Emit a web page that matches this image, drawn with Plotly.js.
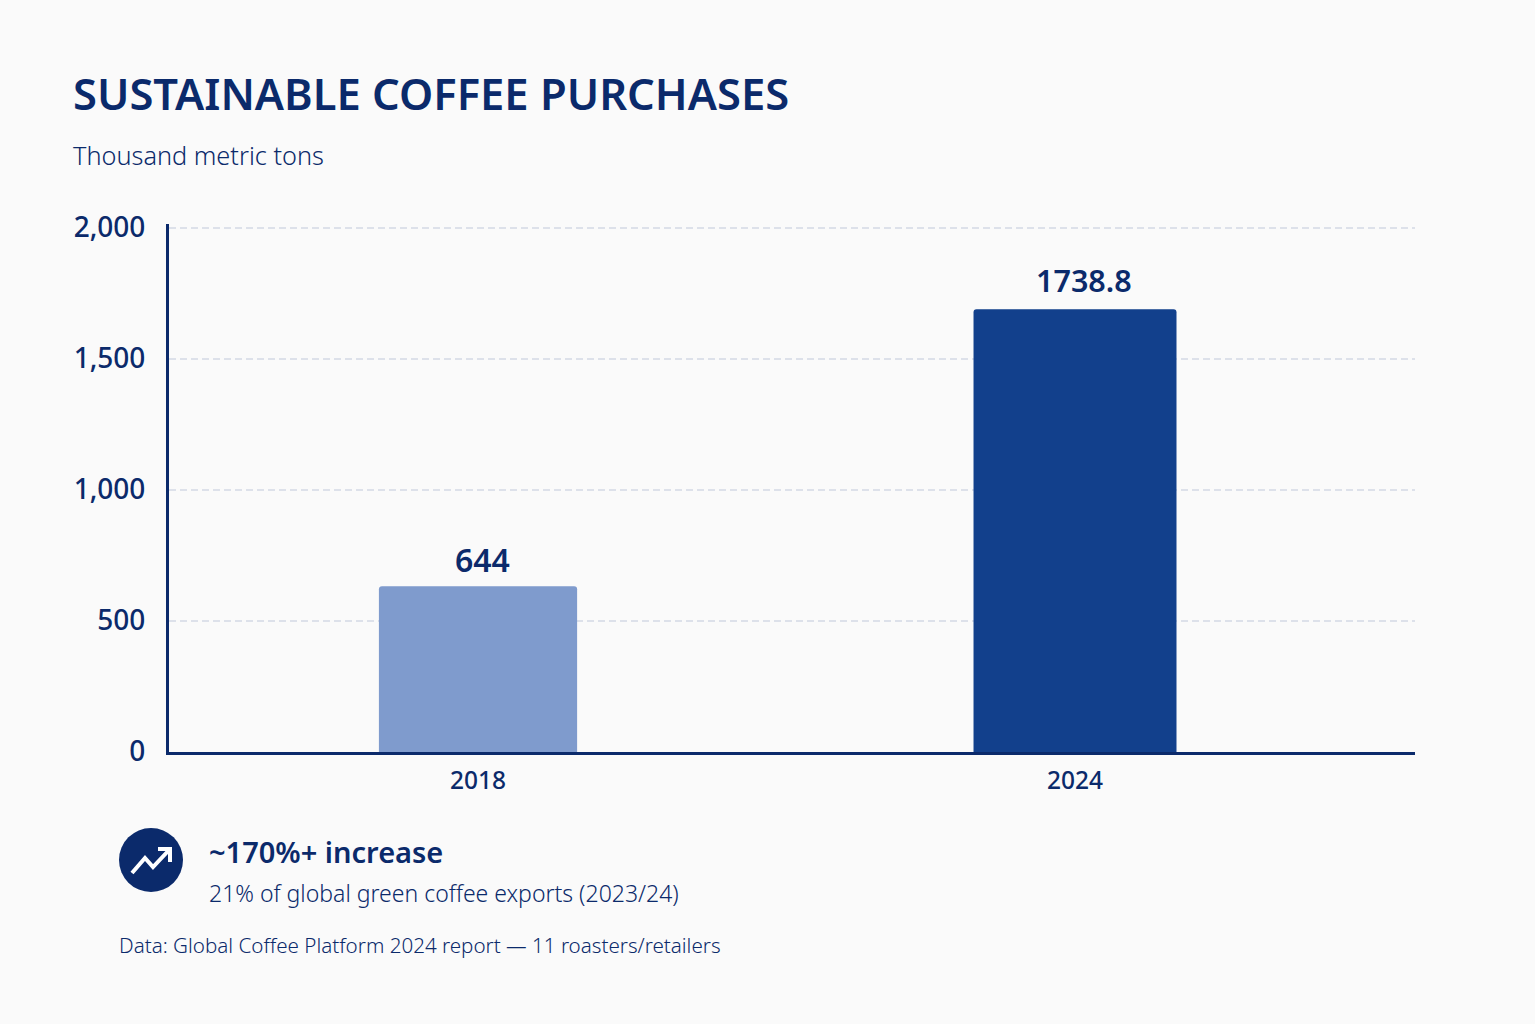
<!DOCTYPE html>
<html>
<head>
<meta charset="utf-8">
<script src="https://cdn.plot.ly/plotly-3.0.1.min.js"></script>
<style>html,body{margin:0;padding:0;background:#fafafa}#chart{width:1535px;height:1024px}</style>
</head>
<body>
<div id="chart"></div>
<script>
const categories = ['2018', '2024'];
const barHeightsAsDrawn = [633, 1690];
const printedLabels = ['644', '1738.8'];
const barColors = ['#7f9bcd', '#12408c'];
const barWidths = [0.332, 0.34];
const yTicks = [0, 500, 1000, 1500, 2000];
const labelShiftX = [4, 9];
const labelShiftY = [27, 29];

const NAVY = '#0b2a6b';
const FONT = '"Noto Sans", sans-serif';
const W = 1535, H = 1024, L = 169, R = 1415, T = 224, B = 752;
const px = x => (x - L) / (R - L);
const py = y => (B - y) / (B - T);

function text(x, y, t, size, weight, color) {
  return {xref:'paper', yref:'paper', x:px(x), y:py(y), xanchor:'left', yanchor:'middle',
          text:t, showarrow:false, align:'left',
          font:{family:FONT, size:size, weight:weight, color:color||NAVY}};
}
function path(points) {
  return points.map((p,i)=>(i?'L':'M')+px(p[0])+','+py(p[1])).join(' ');
}
const iconLine = {color:'#ffffff', width:4};

const trace = {
  type:'bar', x:[0,1], y:barHeightsAsDrawn, width:barWidths,
  marker:{color:barColors, cornerradius:3, line:{width:0}},
  hoverinfo:'skip'
};

const barLabels = printedLabels.map((t,i)=>({
  xref:'x', yref:'y', x:i, y:barHeightsAsDrawn[i], xshift:labelShiftX[i], yshift:labelShiftY[i],
  xanchor:'center', yanchor:'middle', text:t, showarrow:false,
  font:{family:FONT, size:i===0?32:30.5, weight:600, color:NAVY}
}));

const layout = {
  width:W, height:H, showlegend:false,
  paper_bgcolor:'#fafafa', plot_bgcolor:'#fafafa',
  margin:{l:L, r:W-R, t:T, b:H-B, pad:0},
  font:{family:FONT, color:NAVY},
  xaxis:{range:[-0.5176,1.5695], tickmode:'array', tickvals:[0,1], ticktext:categories,
         showgrid:false, zeroline:false, showline:true, linecolor:NAVY, linewidth:3,
         ticks:'outside', ticklen:5, tickcolor:'rgba(0,0,0,0)',
         tickfont:{family:FONT, size:24.5, weight:500, color:NAVY}},
  yaxis:{range:[0,2015.3], tickmode:'array', tickvals:yTicks, tickformat:',',
         showgrid:true, gridcolor:'#dde1ea', gridwidth:2, griddash:'7px,4px',
         zeroline:false, showline:true, linecolor:NAVY, linewidth:3,
         ticks:'outside', ticklen:15, tickcolor:'rgba(0,0,0,0)', ticklabelshift:-1,
         tickfont:{family:FONT, size:28, weight:500, color:NAVY}},
  annotations:barLabels.concat([
    text(71, 93, 'SUSTAINABLE COFFEE PURCHASES', 43.5, 600),
    text(71, 155, 'Thousand metric tons', 25.3, 300),
    text(207, 851, '~170%+ increase', 29, 600),
    text(207, 893, '21% of global green coffee exports (2023/24)', 23, 300),
    text(117, 945, 'Data: Global Coffee Platform 2024 report \u2014 11 roasters/retailers', 20.6, 300)
  ]),
  shapes:[
    {type:'circle', xref:'paper', yref:'paper', x0:px(119), x1:px(183), y0:py(892), y1:py(828),
     fillcolor:NAVY, line:{width:0}},
    {type:'path', xref:'paper', yref:'paper', path:path([[132,873],[145,858],[153,867],[170,849]]), line:iconLine},
    {type:'path', xref:'paper', yref:'paper', path:path([[158,849],[170,849],[170,862]]), line:iconLine}
  ]
};
Plotly.newPlot('chart', [trace], layout, {displayModeBar:false, staticPlot:true});
</script>
</body>
</html>
